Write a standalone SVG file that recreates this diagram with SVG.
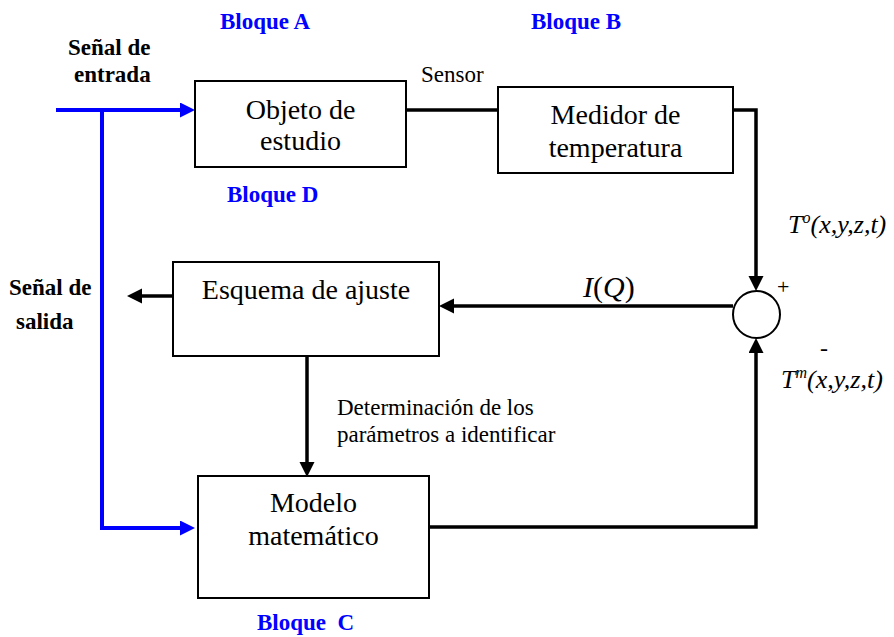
<svg xmlns="http://www.w3.org/2000/svg" width="894" height="637" viewBox="0 0 894 637">
<style>
.box{fill:#fff;stroke:#000;stroke-width:2}
.lbl{font-family:"Liberation Serif","Times New Roman",serif;font-size:28px;fill:#000;text-anchor:middle}
.blq{font-family:"Liberation Serif","Times New Roman",serif;font-size:23px;font-weight:bold;fill:#0000ff;white-space:pre}
.bold{font-family:"Liberation Serif","Times New Roman",serif;font-size:23px;font-weight:bold;fill:#000}
.sm{font-family:"Liberation Serif","Times New Roman",serif;font-size:23px;fill:#000}
.math{font-family:"Liberation Serif","Times New Roman",serif;fill:#000}
.blk{fill:none;stroke:#000;stroke-width:3.5}
.blu{fill:none;stroke:#0000ff;stroke-width:4}
</style>
<defs>
<marker id="ab" markerUnits="userSpaceOnUse" markerWidth="16" markerHeight="16" refX="0" refY="7.5" orient="auto" viewBox="0 0 16 16">
<path d="M0,0 L15,7.5 L0,15 z" fill="#000"/>
</marker>
<marker id="au" markerUnits="userSpaceOnUse" markerWidth="16" markerHeight="16" refX="0" refY="7.5" orient="auto" viewBox="0 0 16 16">
<path d="M0,0 L15,7.5 L0,15 z" fill="#0000ff"/>
</marker>
</defs>

<g id="connectors">
<path class="blu" d="M56,110 H180" marker-end="url(#au)"/>
<path class="blu" d="M102,110 V528 H180" marker-end="url(#au)"/>
<path class="blk" d="M406,110 H498"/>
<path class="blk" d="M733,110 H756 V276" marker-end="url(#ab)"/>
<path class="blk" d="M733,306 H454" marker-end="url(#ab)"/>
<path class="blk" d="M173,296 H142" marker-end="url(#ab)"/>
<path class="blk" d="M307,356 V462" marker-end="url(#ab)"/>
<path class="blk" d="M429,527 H756 V353" marker-end="url(#ab)"/>
</g>

<g id="objeto">
<rect class="box" x="195" y="81" width="211" height="86"/>
<text class="lbl" x="300.5" y="119">Objeto de</text>
<text class="lbl" x="300.5" y="150">estudio</text>
</g>

<g id="medidor">
<rect class="box" x="498" y="87" width="235" height="86"/>
<text class="lbl" x="615.5" y="124">Medidor de</text>
<text class="lbl" x="615.5" y="157">temperatura</text>
</g>

<g id="esquema">
<rect class="box" x="173" y="262" width="266" height="94"/>
<text class="lbl" x="306" y="299">Esquema de ajuste</text>
</g>

<g id="modelo">
<rect class="box" x="198" y="476" width="231" height="122"/>
<text class="lbl" x="313.5" y="512">Modelo</text>
<text class="lbl" x="313.5" y="545">matemático</text>
</g>

<g id="sumador">
<circle cx="756.5" cy="314.5" r="23.5" fill="#fff" stroke="#000" stroke-width="2"/>
<text class="math" x="777" y="294" font-size="22">+</text>
<text class="math" x="820" y="356" font-size="24">-</text>
</g>

<g id="labels">
<text class="blq" x="220" y="29">Bloque A</text>
<text class="blq" x="531" y="29">Bloque B</text>
<text class="blq" x="227" y="202">Bloque D</text>
<text class="blq" x="257" y="630">Bloque  C</text>
<text class="bold" x="68" y="55">Señal de</text>
<text class="bold" x="74" y="82">entrada</text>
<text class="bold" x="9" y="295">Señal de</text>
<text class="bold" x="16" y="329">salida</text>
<text class="sm" x="421" y="82">Sensor</text>
<text class="sm" x="337" y="415">Determinación de los</text>
<text class="sm" x="337" y="442">parámetros a identificar</text>
<text class="math" x="583" y="297" font-size="30"><tspan font-style="italic">I</tspan>(<tspan font-style="italic">Q</tspan>)</text>
<text class="math" x="788" y="233" font-size="26" font-style="italic">T<tspan font-size="16" dy="-10">o</tspan><tspan dy="10">(x,y,z,t)</tspan></text>
<text class="math" x="781" y="388" font-size="26" font-style="italic">T<tspan font-size="16" dy="-10">m</tspan><tspan dy="10">(x,y,z,t)</tspan></text>
</g>
</svg>
